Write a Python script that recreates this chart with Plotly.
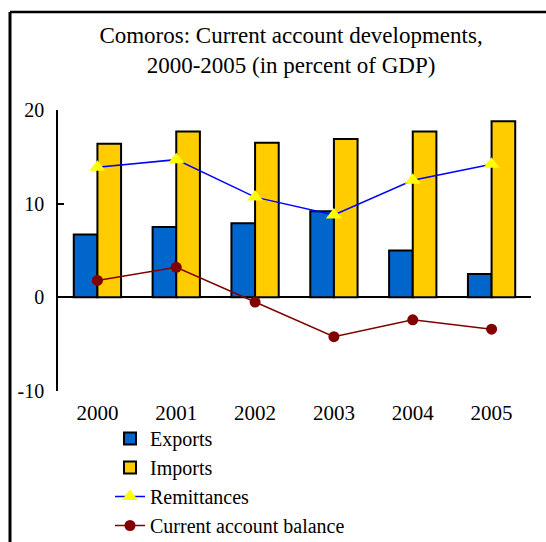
import plotly.graph_objects as go

years = ["2000", "2001", "2002", "2003", "2004", "2005"]
exports = [6.7, 7.5, 7.9, 9.2, 5.0, 2.5]
imports = [16.4, 17.7, 16.5, 16.9, 17.7, 18.8]
remittances = [13.9, 14.7, 10.7, 8.8, 12.5, 14.2]
ca_balance = [1.8, 3.2, -0.5, -4.2, -2.4, -3.4]
y_tick_vals = [-10, 0, 10, 20]
y_tick_text = ["-10", "0", "10", "20"]

FONT = "Liberation Serif, Times New Roman, serif"
W, H = 546, 542
ML, MR, MT, MB = 58, 15, 110, 151

fig = go.Figure()
fig.add_trace(go.Bar(x=years, y=exports, name="Exports",
                     marker=dict(color="#0066CC", line=dict(color="black", width=2))))
fig.add_trace(go.Bar(x=years, y=imports, name="Imports",
                     marker=dict(color="#FFCC00", line=dict(color="black", width=2))))
fig.add_trace(go.Scatter(x=years, y=remittances, name="Remittances", mode="lines+markers",
                         line=dict(color="#0000FF", width=1.5),
                         marker=dict(symbol="triangle-up", size=14, color="#FFFF00")))
fig.add_trace(go.Scatter(x=years, y=ca_balance, name="Current account balance", mode="lines+markers",
                         line=dict(color="#800000", width=1.5),
                         marker=dict(symbol="circle", size=11, color="#800000")))

pw = W - ML - MR
ph = H - MT - MB
# frame lines (top and left), in paper coords
fig.add_shape(type="line", xref="paper", yref="paper",
              x0=(10 - ML) / pw, x1=(W + 10 - ML) / pw,
              y0=(H - MB - 12) / ph, y1=(H - MB - 12) / ph,
              line=dict(color="black", width=2.5))
fig.add_shape(type="line", xref="paper", yref="paper",
              x0=(10 - ML) / pw, x1=(10 - ML) / pw,
              y0=(H - MB - 12) / ph, y1=(-MB - 10) / ph,
              line=dict(color="black", width=3))

fig.update_layout(
    width=W, height=H,
    margin=dict(l=ML, r=MR, t=MT, b=MB, autoexpand=False),
    paper_bgcolor="white", plot_bgcolor="white",
    barmode="group", bargap=0.4, bargroupgap=0,
    font=dict(family=FONT, size=20, color="black"),
    title=dict(text="Comoros: Current account developments,<br>2000-2005 (in percent of GDP)",
               x=0.533, xanchor="center", y=1 - 43 / H, yanchor="middle",
               font=dict(family=FONT, size=23, color="black")),
    showlegend=True,
    legend=dict(x=(110 - ML) / pw, xanchor="left", y=(H - MB - 419) / ph,
                yanchor="top", bgcolor="rgba(0,0,0,0)", font=dict(family=FONT, size=20),
                tracegroupgap=0),
    xaxis=dict(showline=False, ticks="", showgrid=False, tickfont=dict(size=21),
               ticklabelstandoff=7),
    yaxis=dict(range=[-10, 20], tickvals=y_tick_vals, ticktext=y_tick_text, showgrid=False,
               showline=True, linecolor="black", linewidth=1.5,
               ticks="inside", ticklen=6, tickwidth=1.5, tickcolor="black",
               zeroline=True, zerolinecolor="black", zerolinewidth=1.5,
               ticklabelstandoff=8, tickfont=dict(size=20)),
)

fig.write_html("out.html")
